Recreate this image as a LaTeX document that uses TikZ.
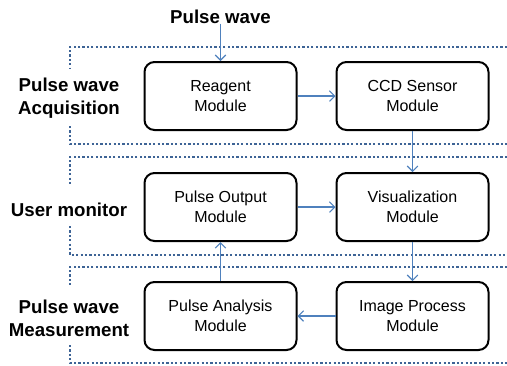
\documentclass[tikz,border=0pt]{standalone}
\usepackage{fontspec}
\setmainfont{Liberation Sans}
\usetikzlibrary{arrows.meta}
\definecolor{arrowblue}{RGB}{79,129,189}
\definecolor{frameblue}{RGB}{62,100,150}
\tikzset{
  module/.style={draw=black, line width=1.5pt, rounded corners=7.5pt,
    minimum width=114pt, minimum height=51pt, align=center,
    font=\fontsize{12}{15}\selectfont},
  stage/.style={align=center, font=\fontsize{14}{17}\selectfont\bfseries},
  flow/.style={draw=arrowblue, line width=0.8pt, -{Straight Barb[length=4pt,width=8pt]}},
  frame/.style={draw=frameblue, line width=1.6pt, dash pattern=on 1.7pt off 1.6pt}
}
\begin{document}
\begin{tikzpicture}[x=0.75pt, y=-0.75pt]
    \useasboundingbox (0,0) rectangle (507,365);
    % dotted stage frames
    \draw[frame] (507,47) -- (70,47) -- (70,68);
    \draw[frame] (70,126) -- (70,144) -- (507,144);
    \draw[frame] (507,157) -- (70,157) -- (70,184);
    \draw[frame] (70,226) -- (70,255) -- (507,255);
    \draw[frame] (507,267) -- (70,267) -- (70,287);
    \draw[frame] (70,345) -- (70,363) -- (507,363);

    \node[stage] (input) at (220.5,17) {Pulse wave};
    \node[stage] (acq) at (69,98) {Pulse wave\\Acquisition};
    \node[stage] (mon) at (69,210) {User monitor};
    \node[stage] (meas) at (69,318) {Pulse wave\\Measurement};

    \node[module] (reagent) at (220.5,96) {Reagent\\Module};
    \node[module] (ccd) at (412.5,96) {CCD Sensor\\Module};
    \node[module] (output) at (220.5,207) {Pulse Output\\Module};
    \node[module] (visual) at (412.5,207) {Visualization\\Module};
    \node[module] (analysis) at (220.5,316) {Pulse Analysis\\Module};
    \node[module] (image) at (412.5,316) {Image Process\\Module};

    \draw[flow] (input.south) ++(0,-5) -- (reagent.north);
    \draw[flow] (reagent) -- (ccd);
    \draw[flow] (ccd) -- (visual);
    \draw[flow] (output) -- (visual);
    \draw[flow] (visual) -- (image);
    \draw[flow] (image) -- (analysis);
    \draw[flow] (analysis) -- (output);
\end{tikzpicture}
\end{document}
